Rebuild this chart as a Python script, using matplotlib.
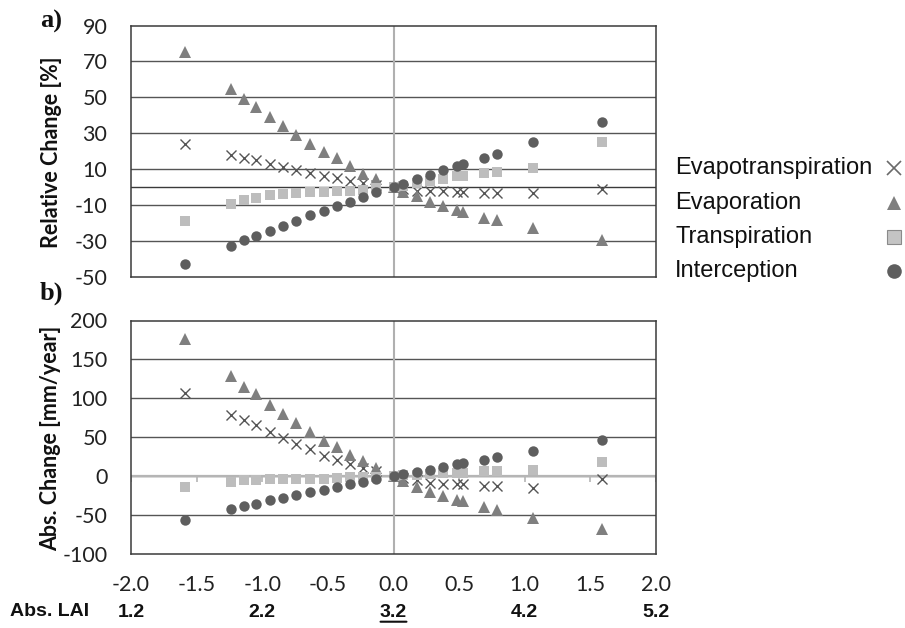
import matplotlib
matplotlib.use("Agg")
import matplotlib.pyplot as plt
from matplotlib.lines import Line2D

# ---------------- data ----------------
d_lai = [-1.59, -1.24, -1.14, -1.05, -0.94, -0.84, -0.74, -0.64, -0.53, -0.43, -0.33, -0.23, -0.13,
         0.0, 0.075, 0.18, 0.28, 0.38, 0.48, 0.53, 0.69, 0.79, 1.06, 1.59]

rel_et = [24.3, 17.8, 16.5, 15.4, 12.8, 11.3, 9.8, 7.9, 6.5, 5.0, 3.5, 2.4, 1.1,
          0.0, -1.0, -1.9, -2.3, -2.4, -2.8, -2.8, -3.2, -3.2, -3.2, -0.8]
rel_ev = [75.0, 54.6, 49.0, 44.7, 38.8, 33.8, 29.1, 24.3, 19.5, 16.0, 11.7, 7.6, 4.3,
          0.0, -2.6, -5.0, -8.0, -10.6, -12.8, -14.0, -16.9, -18.4, -22.5, -29.2]
rel_tr = [-19.0, -9.3, -7.3, -6.2, -4.3, -3.9, -3.5, -2.9, -2.8, -2.4, -1.9, -1.3, -0.7,
          0.0, 0.9, 2.2, 3.5, 4.8, 6.2, 6.5, 7.9, 8.3, 10.4, 25.0]
rel_in = [-42.5, -32.7, -29.5, -27.1, -24.2, -21.4, -18.6, -15.6, -13.0, -10.4, -8.0, -5.2, -2.6,
          0.0, 2.0, 4.4, 7.0, 9.4, 11.7, 12.8, 16.5, 18.5, 24.9, 36.2]

abs_et = [106.9, 79.1, 72.3, 65.4, 56.4, 49.2, 41.5, 34.6, 26.5, 21.0, 15.0, 10.3, 6.0,
          0.0, -2.0, -5.5, -9.0, -9.8, -10.6, -10.6, -13.2, -13.2, -14.9, -3.4]
abs_ev = [176.2, 128.2, 115.0, 105.6, 91.5, 79.5, 68.0, 57.3, 45.8, 37.2, 27.4, 19.2, 10.8,
          0.0, -6.4, -14.1, -20.9, -25.2, -30.3, -32.4, -39.7, -44.0, -53.3, -68.0]
abs_tr = [-14.5, -7.2, -5.5, -5.1, -3.8, -3.8, -3.4, -3.4, -3.0, -2.6, -1.3, -1.0, -0.5,
          0.0, 1.0, 1.5, 3.0, 4.4, 4.7, 4.7, 6.0, 6.0, 7.3, 18.8]
abs_in = [-56.0, -42.7, -38.8, -35.4, -31.2, -28.2, -23.9, -20.5, -17.5, -14.1, -10.7, -7.2, -4.2,
          0.0, 2.2, 5.1, 8.2, 12.0, 15.0, 16.3, 20.5, 24.0, 31.7, 46.2]

series_names = ["Evapotranspiration", "Evaporation", "Transpiration", "Interception"]
x_ticks = [-2.0, -1.5, -1.0, -0.5, 0.0, 0.5, 1.0, 1.5, 2.0]
lai_ticks = [-2.0, -1.0, 0.0, 1.0, 2.0]
lai_labels = ["1.2", "2.2", "3.2", "4.2", "5.2"]
rel_yticks = [-50, -30, -10, 10, 30, 50, 70, 90]
abs_yticks = [-100, -50, 0, 50, 100, 150, 200]

# ---------------- style ----------------
styles = [
    dict(marker="x", color="#555555", ms=7.5, mew=1.0, ls="none"),
    dict(marker="^", color="#7f7f7f", ms=8, mew=0, ls="none"),
    dict(marker="s", color="#bdbdbd", ms=7, mew=0, ls="none"),
    dict(marker="o", color="#5e5e5e", ms=7.5, mew=0, ls="none"),
]
legend_styles = [
    dict(marker="x", color="#6a6a6a", ms=10, mew=1.2, ls="none"),
    dict(marker="^", color="#7f7f7f", ms=10, mew=0, ls="none"),
    dict(marker="s", color="#c4c4c4", ms=9.5, mew=0.8, mec="#8a8a8a", ls="none"),
    dict(marker="o", color="#5e5e5e", ms=10.5, mew=0, ls="none"),
]
tick_font = "Lato"

fig = plt.figure(figsize=(9.05, 6.28), dpi=100)
W, H = 905, 628


def ax_rect(l, t, r, b):
    return [l / W, 1 - b / H, (r - l) / W, (b - t) / H]


ax1 = fig.add_axes(ax_rect(131, 25.5, 656, 277))
ax2 = fig.add_axes(ax_rect(131, 320.5, 656, 554))

for ax, ys, yt, ylim in [
    (ax1, [rel_et, rel_ev, rel_tr, rel_in], rel_yticks, (-50, 90)),
    (ax2, [abs_et, abs_ev, abs_tr, abs_in], abs_yticks, (-100, 200)),
]:
    ax.set_xlim(-2, 2)
    ax.set_ylim(*ylim)
    ax.set_yticks(yt)
    ax.set_yticklabels([str(v) for v in yt], fontfamily=tick_font, fontsize=15.5, color="#222222")
    ax.tick_params(axis="y", length=0, pad=17)
    for s in ax.spines.values():
        s.set_color("#3a3a3a")
        s.set_linewidth(1.1)
    for v in yt:
        if v != ylim[0] and v != ylim[1]:
            ax.axhline(v, color="#555555", lw=1.0, zorder=1)
    ax.axvline(0, color="#b0b0b0", lw=1.5, zorder=1)
    for y, st, name in zip(ys, styles, series_names):
        ax.plot(d_lai, y, label=name, zorder=3, **st)

# panel a zero line
ax1.axhline(0, color="#3a3a3a", lw=1.0, zorder=1)
ax1.set_xticks([])

# panel b: zero axis in light grey with tick marks
ax2.axhline(0, color="#b5b5b5", lw=1.6, zorder=1)
ax2.vlines(x_ticks, -8, 0, color="#b5b5b5", lw=1.2, zorder=1)
ax2.set_xticks(x_ticks)
ax2.set_xticklabels([f"{v:.1f}" for v in x_ticks],
                    fontfamily=tick_font, fontsize=15.5, color="#222222")
ax2.tick_params(axis="x", length=0, pad=15)

# Abs. LAI row
for xv, lab in zip(lai_ticks, lai_labels):
    ax2.text(xv, -0.252, lab, transform=ax2.get_xaxis_transform(), ha="center", va="center",
             fontfamily="Liberation Sans", fontweight="bold", fontsize=14, color="#111111")
    if lab == "3.2":
        ax2.annotate("", xy=(xv + 0.12, -0.29), xytext=(xv - 0.12, -0.29),
                     xycoords=ax2.get_xaxis_transform(),
                     arrowprops=dict(arrowstyle="-", lw=1.5, color="#111111"))
fig.text(50 / W, 1 - 612 / H, "Abs. LAI", ha="center", va="center",
         fontfamily="Liberation Sans", fontweight="bold", fontsize=14, color="#111111")

# axis labels
fig.text(51 / W, 1 - 152 / H, "Relative Change [%]", rotation=90, ha="center", va="center",
         fontfamily=tick_font, fontweight="bold", fontsize=15.5, color="#111111")
fig.text(51 / W, 1 - 438 / H, "Abs. Change [mm/year]", rotation=90, ha="center", va="center",
         fontfamily=tick_font, fontweight="bold", fontsize=15.5, color="#111111")

# panel letters
fig.text(51 / W, 1 - 21 / H, "a)", ha="center", va="center",
         fontfamily="Liberation Serif", fontweight="bold", fontsize=19, color="#111111")
fig.text(51 / W, 1 - 293 / H, "b)", ha="center", va="center",
         fontfamily="Liberation Serif", fontweight="bold", fontsize=19, color="#111111")

# legend (text left-aligned, symbols in a column on the right)
legend_y = [168, 203, 237, 271]
for name, ly, st in zip(series_names, legend_y, legend_styles):
    fig.text(675 / W, 1 - ly / H, name, ha="left", va="center",
             fontfamily="Liberation Sans", fontsize=17, color="#111111")
    fig.add_artist(Line2D([894 / W], [1 - ly / H], transform=fig.transFigure, **st))

fig.savefig("out.png", dpi=100)
